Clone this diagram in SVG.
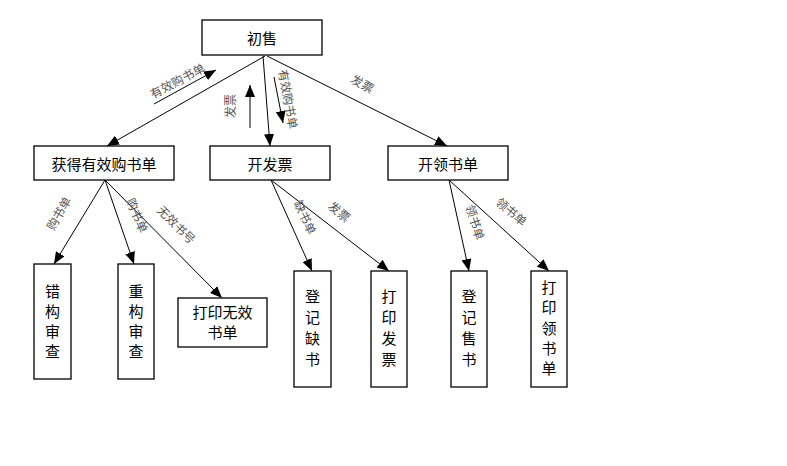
<svg xmlns="http://www.w3.org/2000/svg" width="787" height="466" viewBox="0 0 787 466">
<style>
.box{fill:#fff;stroke:#000;stroke-width:1.3}
.t{font-family:"Noto Sans CJK SC","Liberation Sans",sans-serif;font-size:15px;fill:#000;text-anchor:middle;dominant-baseline:central}
.l{font-family:"Noto Sans CJK SC","Liberation Sans",sans-serif;font-size:12px;fill:#555;text-anchor:middle;dominant-baseline:central}
.e{stroke:#000;stroke-width:1;fill:none;marker-end:url(#a)}
</style>
<defs>
<marker id="a" viewBox="0 0 12 10" refX="12" refY="5" markerWidth="12" markerHeight="10" markerUnits="userSpaceOnUse" orient="auto">
<path d="M0,0 L12,5 L0,10 Z" fill="#000"/>
</marker>
</defs>
<rect width="787" height="466" fill="#fff"/>
<g id="connectors">
<line class="e" x1="265" y1="56" x2="107" y2="146"/>
<line class="e" x1="263" y1="56" x2="270" y2="146"/>
<line class="e" x1="267" y1="56" x2="447" y2="146"/>
<line class="e" x1="154" y1="104" x2="216" y2="70"/>
<line class="e" x1="250" y1="128" x2="250" y2="85"/>
<line class="e" x1="274" y1="77" x2="283" y2="123"/>
<line class="e" x1="105" y1="180" x2="54" y2="264"/>
<line class="e" x1="105" y1="180" x2="134" y2="264"/>
<line class="e" x1="105" y1="180" x2="222" y2="298"/>
<line class="e" x1="271" y1="180" x2="312" y2="271"/>
<line class="e" x1="271" y1="180" x2="389" y2="271"/>
<line class="e" x1="449" y1="180" x2="469" y2="271"/>
<line class="e" x1="449" y1="180" x2="549" y2="271"/>
<text class="l" transform="translate(177,80) rotate(-28)">有效购书单</text>
<text class="l" transform="translate(229,106) rotate(-90)">发票</text>
<text class="l" transform="translate(289,99) rotate(80)">有效购书单</text>
<text class="l" transform="translate(363,83) rotate(30)">发票</text>
<text class="l" transform="translate(58,213) rotate(-60)">购书单</text>
<text class="l" transform="translate(138,215) rotate(67)">购书单</text>
<text class="l" transform="translate(177,224) rotate(45)">无效书号</text>
<text class="l" transform="translate(306,217) rotate(65)">缺书单</text>
<text class="l" transform="translate(340,211) rotate(40)">发票</text>
<text class="l" transform="translate(476,222) rotate(72)">领书单</text>
<text class="l" transform="translate(512,211) rotate(40)">领书单</text>
</g>
<g id="n-chushou"><rect class="box" x="202" y="20" width="120" height="35"/><text class="t" x="262" y="37">初售</text></g>
<g id="n-huode"><rect class="box" x="34" y="146" width="140" height="34"/><text class="t" x="104" y="163">获得有效购书单</text></g>
<g id="n-kaifapiao"><rect class="box" x="210" y="146" width="120" height="34"/><text class="t" x="270" y="163">开发票</text></g>
<g id="n-kailingshudan"><rect class="box" x="388" y="146" width="120" height="34"/><text class="t" x="448" y="163">开领书单</text></g>
<g id="n-cuogou"><rect class="box" x="34" y="264" width="37" height="115"/><text class="t" x="52.5" y="290">错</text><text class="t" x="52.5" y="310">构</text><text class="t" x="52.5" y="330">审</text><text class="t" x="52.5" y="350">查</text></g>
<g id="n-chonggou"><rect class="box" x="118" y="264" width="36" height="115"/><text class="t" x="136" y="290">重</text><text class="t" x="136" y="310">构</text><text class="t" x="136" y="330">审</text><text class="t" x="136" y="350">查</text></g>
<g id="n-dayinwuxiao"><rect class="box" x="178" y="298" width="89" height="49"/><text class="t" x="222.5" y="311">打印无效</text><text class="t" x="222.5" y="331">书单</text></g>
<g id="n-dengjiqueshu"><rect class="box" x="294" y="271" width="37" height="116"/><text class="t" x="312.5" y="295">登</text><text class="t" x="312.5" y="316">记</text><text class="t" x="312.5" y="337">缺</text><text class="t" x="312.5" y="358">书</text></g>
<g id="n-dayinfapiao"><rect class="box" x="371" y="271" width="36" height="116"/><text class="t" x="389" y="295">打</text><text class="t" x="389" y="316">印</text><text class="t" x="389" y="337">发</text><text class="t" x="389" y="358">票</text></g>
<g id="n-dengjishoushu"><rect class="box" x="451" y="271" width="36" height="116"/><text class="t" x="469" y="295">登</text><text class="t" x="469" y="316">记</text><text class="t" x="469" y="337">售</text><text class="t" x="469" y="358">书</text></g>
<g id="n-dayinlingshudan"><rect class="box" x="531" y="271" width="36" height="116"/><text class="t" x="549" y="286">打</text><text class="t" x="549" y="306">印</text><text class="t" x="549" y="327">领</text><text class="t" x="549" y="347">书</text><text class="t" x="549" y="367">单</text></g>
</svg>
